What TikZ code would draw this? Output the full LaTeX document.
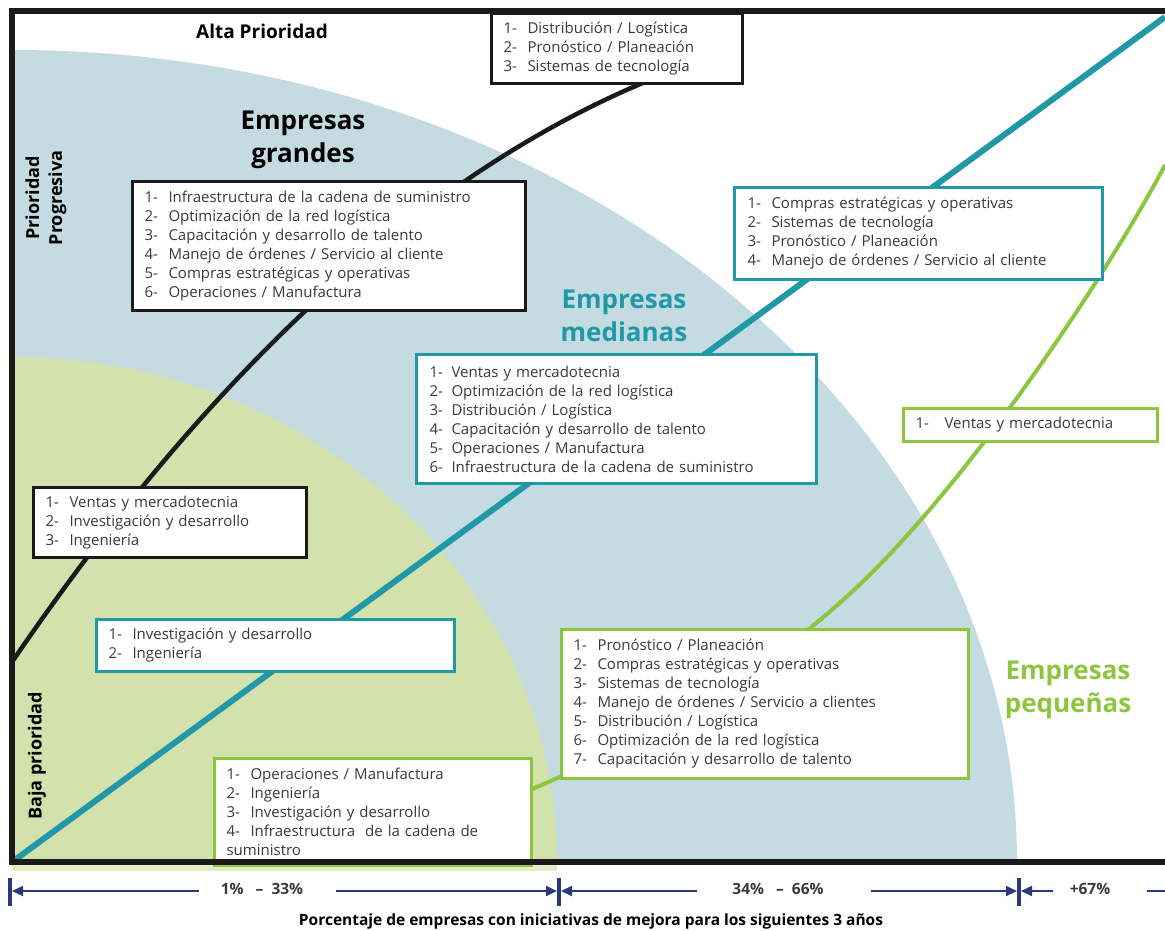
\documentclass[tikz,border=0pt]{standalone}
\usepackage{fontspec}
\setmainfont{Open Sans}
\usetikzlibrary{arrows.meta,calc}
\definecolor{lblue}{HTML}{C3DBE1}
\definecolor{lgreen}{HTML}{D3E1AD}
\definecolor{pgreen}{HTML}{E4ECC2}
\definecolor{teal}{HTML}{2198A8}
\definecolor{grn}{HTML}{8CC63F}
\definecolor{navy}{HTML}{263A7C}
\definecolor{txtgray}{HTML}{3A3A3A}
\definecolor{frm}{HTML}{1A1A1A}
\newcommand\bitem[2]{\makebox[24pt][l]{#1-}#2}
\tikzset{
  bx/.style={draw=#1, line width=3pt, fill=white, align=left, anchor=north west,
    inner xsep=12pt, inner ysep=0pt, font=\fontsize{15}{19}\selectfont, text=txtgray},
  title/.style={font=\fontsize{26}{33}\selectfont\bfseries, align=center, text=#1},
  sidelbl/.style={font=\fontsize{18}{23}\selectfont\bfseries, align=center, rotate=90},
  tickbar/.style={draw=navy, line width=3.5pt},
  axarr/.style={draw=navy, line width=1.8pt, -{Triangle[length=11pt,width=10pt]}},
  axline/.style={draw=navy, line width=1.8pt},
  axtxt/.style={font=\fontsize{15.5}{18}\selectfont\bfseries, text=txtgray}
}
\begin{document}
\begin{tikzpicture}[x=1pt,y=-1pt]
\useasboundingbox (0,0) rectangle (1165,930);
% background regions
\begin{scope}
  \clip (12,10) rectangle (1165,862);
  \fill[lblue] (12,862) ellipse [x radius=1005pt, y radius=812pt];
  \fill[lgreen] (12,862) ellipse [x radius=545pt, y radius=505pt];
\end{scope}
\fill[pgreen] (12,865) rectangle (557,871);
% curves
\coordinate (bk0) at (12,662);
\coordinate (bk1) at (645,82);
\draw[line width=4.5pt, frm] (bk0) .. controls (212.7,368) and (423.7,174.7) .. (bk1);
\coordinate (tl0) at (12,862);
\coordinate (tl1) at (1165,17);
\draw[line width=6pt, teal] (tl0) -- (tl1);
\coordinate (gr0) at (530,790);
\coordinate (gr1) at (843,600);
\coordinate (gr2) at (1165,165);
\draw[line width=4pt, grn] (gr0) .. controls (630,747) and (743,690) .. (gr1)
   .. controls (960,496) and (1105,279) .. (gr2);
% boxes
\node[bx=frm, minimum width=251pt, minimum height=70pt, text width=227pt] (b1) at (490,12)
  {\bitem{1}{Distribución / Logística}\\\bitem{2}{Pronóstico / Planeación}\\\bitem{3}{Sistemas de tecnología}};
\node[bx=frm, minimum width=393pt, minimum height=129pt, text width=369pt] (b2) at (131,180)
  {\bitem{1}{Infraestructura de la cadena de suministro}\\\bitem{2}{Optimización de la red logística}\\\bitem{3}{Capacitación y desarrollo de talento}\\\bitem{4}{Manejo de órdenes / Servicio al cliente}\\\bitem{5}{Compras estratégicas y operativas}\\\bitem{6}{Operaciones / Manufactura}};
\node[bx=frm, minimum width=273pt, minimum height=70pt, text width=249pt] (b3) at (32,486)
  {\bitem{1}{Ventas y mercadotecnia}\\\bitem{2}{Investigación y desarrollo}\\\bitem{3}{Ingeniería}};
\node[bx=teal, minimum width=358pt, minimum height=52pt, text width=334pt] (b4) at (95,618)
  {\bitem{1}{Investigación y desarrollo}\\\bitem{2}{Ingeniería}};
\node[bx=teal, minimum width=400pt, minimum height=129pt, text width=374pt, inner xsep=13pt] (b5) at (415,353)
  {\makebox[22pt][l]{1-}Ventas y mercadotecnia\\\makebox[22pt][l]{2-}Optimización de la red logística\\\makebox[22pt][l]{3-}Distribución / Logística\\\makebox[22pt][l]{4-}Capacitación y desarrollo de talento\\\makebox[22pt][l]{5-}Operaciones / Manufactura\\\makebox[22pt][l]{6-}Infraestructura de la cadena de suministro};
\node[bx=teal, minimum width=368pt, minimum height=92pt, text width=342pt, inner xsep=13pt] (b6) at (733,186)
  {\bitem{1}{Compras estratégicas y operativas}\\\bitem{2}{Sistemas de tecnología}\\\bitem{3}{Pronóstico / Planeación}\\\bitem{4}{Manejo de órdenes / Servicio al cliente}};
\node[bx=grn, minimum width=254pt, minimum height=33pt, text width=230pt] (b7) at (902,407)
  {\makebox[29pt][l]{1-}Ventas y mercadotecnia};
\node[bx=grn, minimum width=407pt, minimum height=149pt, text width=383pt] (b8) at (560,628)
  {\bitem{1}{Pronóstico / Planeación}\\\bitem{2}{Compras estratégicas y operativas}\\\bitem{3}{Sistemas de tecnología}\\\bitem{4}{Manejo de órdenes / Servicio a clientes}\\\bitem{5}{Distribución / Logística}\\\bitem{6}{Optimización de la red logística}\\\bitem{7}{Capacitación y desarrollo de talento}};
\node[bx=grn, minimum width=317pt, minimum height=107pt, text width=293pt] (b9) at (213,757)
  {\bitem{1}{Operaciones / Manufactura}\\\bitem{2}{Ingeniería}\\\bitem{3}{Investigación y desarrollo}\\\bitem{4}{Infraestructura\ \ de la cadena de}\\suministro};
% frame
\draw[frm, line width=6.5pt, line join=miter] (1165,11) -- (12,11) -- (12,862) -- (1165,862);
% titles
\node[title=black] (tg) at (303,140) {Empresas\\grandes};
\node[title=teal] (tm) at (624,316) {Empresas\\medianas};
\node[title=grn] (tp) at (1068,690) {Empresas\\pequeñas};
\node[font=\fontsize{19}{23}\selectfont\bfseries] (alta) at (262,31) {Alta Prioridad};
\node[sidelbl] (prog) at (46,198) {Prioridad\\Progresiva};
\node[sidelbl] (baja) at (37,756) {Baja prioridad};
% axis
\coordinate (t1) at (10,878); \coordinate (t1b) at (10,906);
\coordinate (t2) at (559,878); \coordinate (t2b) at (559,906);
\coordinate (t3) at (1019,878); \coordinate (t3b) at (1019,906);
\draw[tickbar] (t1) -- (t1b);
\draw[tickbar] (t2) -- (t2b);
\draw[tickbar] (t3) -- (t3b);
\node[axtxt] (p1) at (262,889) {1\%\ \ \ –\ \ 33\%};
\node[axtxt] (p2) at (778,889) {34\%\ \ \ –\ \ 66\%};
\node[axtxt] (p3) at (1090,889) {+67\%};
\coordinate (a1) at (199,891); \coordinate (a1t) at (12,891);
\coordinate (a2) at (336,891); \coordinate (a2t) at (557,891);
\coordinate (a3) at (697,891); \coordinate (a3t) at (561,891);
\coordinate (a4) at (871,891); \coordinate (a4t) at (1017,891);
\coordinate (a5) at (1053,891); \coordinate (a5t) at (1021,891);
\coordinate (a6) at (1147,891); \coordinate (a6t) at (1165,891);
\draw[axarr] (a1) -- (a1t);
\draw[axarr] (a2) -- (a2t);
\draw[axarr] (a3) -- (a3t);
\draw[axarr] (a4) -- (a4t);
\draw[axarr] (a5) -- (a5t);
\draw[axline] (a6) -- (a6t);
\node[font=\fontsize{15.5}{18}\selectfont\bfseries] (cap) at (591,921)
  {Porcentaje de empresas con iniciativas de mejora para los siguientes 3 años};
\end{tikzpicture}
\end{document}
